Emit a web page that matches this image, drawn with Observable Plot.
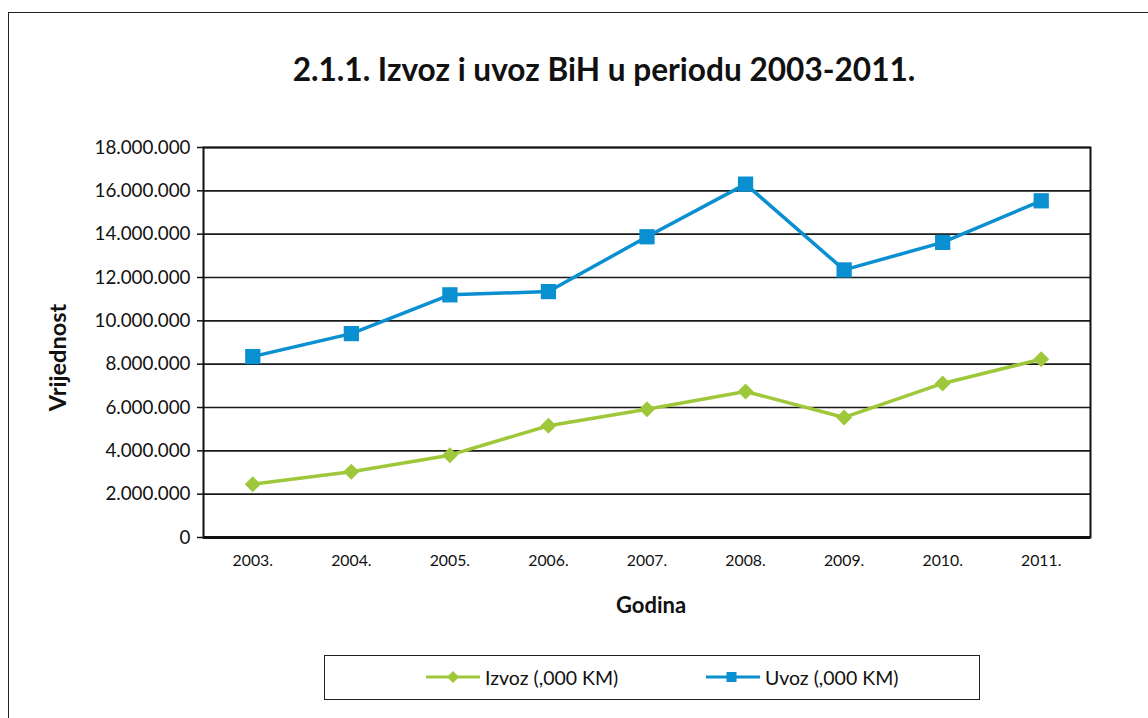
<!DOCTYPE html>
<html>
<head>
<meta charset="utf-8">
<script src="https://cdn.jsdelivr.net/npm/d3@7"></script>
<script src="https://cdn.jsdelivr.net/npm/@observablehq/plot@0.6"></script>
<style>
  html, body { margin: 0; padding: 0; background: #fff; }
  body { width: 1148px; height: 718px; position: relative; overflow: hidden; font-family: Lato, "Open Sans", sans-serif; color: #111; }
  #frame { position: absolute; left: 8px; top: 12px; width: 1200px; height: 800px; border-left: 1.5px solid #222; border-top: 1.5px solid #222; }
  #chart { position: absolute; left: 0; top: 0; }
  #title { position: absolute; left: 0; width: 1208px; top: 50px; text-align: center; font-size: 31.6px; font-weight: 700; }
  #legend { position: absolute; left: 324px; top: 655px; width: 656px; height: 45px; border: 1.5px solid #222; box-sizing: border-box; }
  .item { position: absolute; top: 0; height: 42px; display: flex; align-items: center; font-size: 19.5px; }
  .item svg { margin-right: 5px; }
</style>
</head>
<body>
<div id="frame"></div>
<div id="chart"></div>
<div id="title">2.1.1. Izvoz i uvoz BiH u periodu 2003-2011.</div>
<div id="legend"></div>
<script>
const years = ["2003.", "2004.", "2005.", "2006.", "2007.", "2008.", "2009.", "2010.", "2011."];
const izvoz = [2460000, 3030000, 3800000, 5160000, 5920000, 6740000, 5540000, 7110000, 8230000];
const uvoz = [8350000, 9410000, 11200000, 11350000, 13880000, 16310000, 12350000, 13620000, 15540000];
const yTicks = [0, 2000000, 4000000, 6000000, 8000000, 10000000, 12000000, 14000000, 16000000, 18000000];
const seriesNames = ["Izvoz (,000 KM)", "Uvoz (,000 KM)"];
const seriesColors = ["#9ec83a", "#0a8fd0"];

const locale = d3.formatLocale({decimal: ",", thousands: ".", grouping: [3], currency: ["", ""]});
const fmt = locale.format(",d");

const rows = [];
years.forEach((y, i) => {
  rows.push({year: y, value: izvoz[i], series: seriesNames[0]});
  rows.push({year: y, value: uvoz[i], series: seriesNames[1]});
});
const izRows = rows.filter(d => d.series === seriesNames[0]);
const uvRows = rows.filter(d => d.series === seriesNames[1]);

const chart = Plot.plot({
  width: 1148,
  height: 718,
  marginLeft: 203,
  marginRight: 58,
  marginTop: 147,
  marginBottom: 181,
  style: {fontFamily: "Lato, 'Open Sans', sans-serif", background: "transparent", color: "#111"},
  x: {type: "band", domain: years, padding: 0, round: false, label: null},
  y: {domain: [0, 18000000], label: null},
  marks: [
    Plot.ruleY(yTicks.slice(1), {stroke: "#1a1a1a", strokeWidth: 1.6}),
    Plot.frame({stroke: "#111", strokeWidth: 2}),
    Plot.ruleY([0], {stroke: "#111", strokeWidth: 3}),
    Plot.axisY({ticks: yTicks, tickFormat: fmt, tickSize: 6, tickPadding: 7, fontSize: 18.8, stroke: "#111", strokeWidth: 1.5, label: null}),
    Plot.axisX({tickSize: 0, tickPadding: 17, fontSize: 15.8, label: null}),
    Plot.lineY(izRows, {x: "year", y: "value", stroke: seriesColors[0], strokeWidth: 3.5}),
    Plot.dot(izRows, {x: "year", y: "value", symbol: "diamond2", r: 7.2, fill: seriesColors[0]}),
    Plot.lineY(uvRows, {x: "year", y: "value", stroke: seriesColors[1], strokeWidth: 3.5}),
    Plot.dot(uvRows, {x: "year", y: "value", symbol: "square", r: 8.6, fill: seriesColors[1]}),
    Plot.text(["Godina"], {frameAnchor: "bottom", dy: 75, dx: 4, fontSize: 22, fontWeight: "bold"}),
    Plot.text(["Vrijednost"], {frameAnchor: "left", textAnchor: "middle", dx: -145, dy: 15, rotate: -90, fontSize: 23.5, fontWeight: "bold"})
  ]
});
document.getElementById("chart").appendChild(chart);

// legend
const legend = document.getElementById("legend");
const itemLefts = [101, 381];
seriesNames.forEach((name, i) => {
  const item = document.createElement("div");
  item.className = "item";
  item.style.left = itemLefts[i] + "px";
  const sym = i === 0
    ? '<path d="M27,-6 L33,0 L27,6 L21,0 Z" fill="' + seriesColors[i] + '"/>'
    : '<rect x="20.5" y="-5" width="10" height="10" fill="' + seriesColors[i] + '"/>';
  item.innerHTML = '<svg width="54" height="20" viewBox="0 -10 54 20"><line x1="0" x2="54" y1="0" y2="0" stroke="' + seriesColors[i] + '" stroke-width="3"/>' + sym + '</svg><span>' + name + '</span>';
  legend.appendChild(item);
});
</script>
</body>
</html>
